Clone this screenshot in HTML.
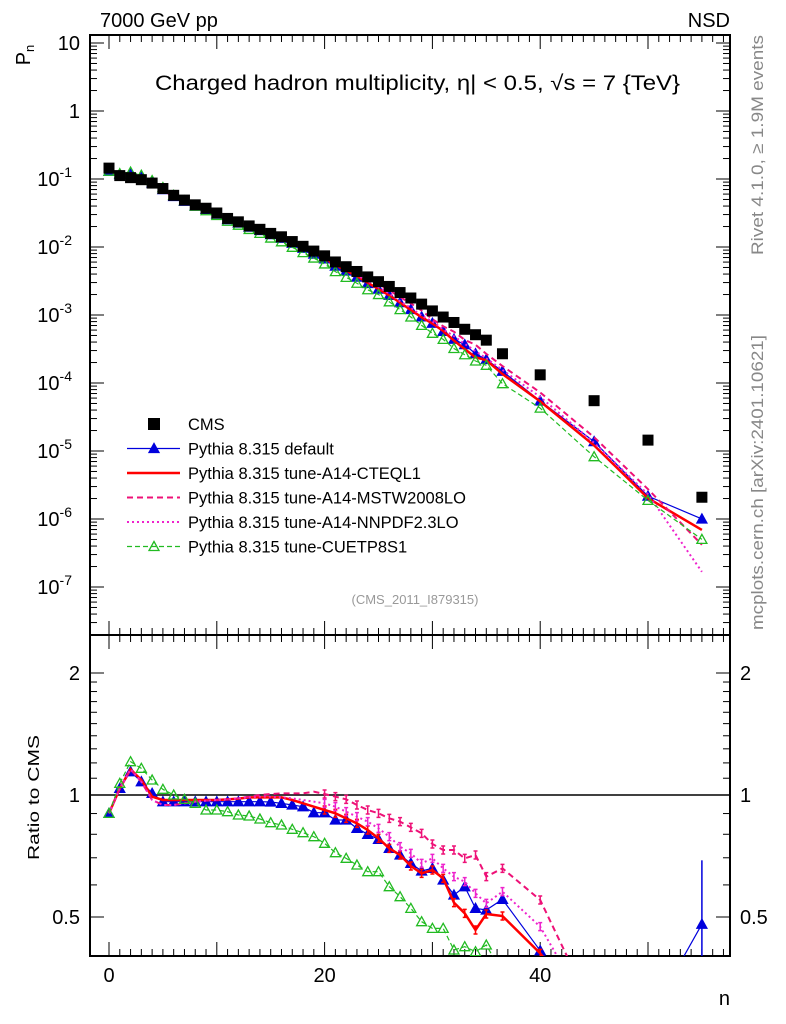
<!DOCTYPE html>
<html><head><meta charset="utf-8"><style>
html,body{margin:0;padding:0;background:#fff;width:786px;height:1024px;overflow:hidden;}
svg{display:block;font-family:"Liberation Sans",sans-serif;}
</style></head><body>
<svg id="chart" width="786" height="1024" xmlns="http://www.w3.org/2000/svg">
<defs><clipPath id="cm"><rect x="90" y="35" width="640" height="600"/></clipPath><clipPath id="cr"><rect x="90" y="635" width="640" height="321"/></clipPath></defs>
<g id="axes"></g>
<g id="marks-main" clip-path="url(#cm)"></g>
<g id="marks-ratio" clip-path="url(#cr)"></g>
<text x="100" y="27" font-size="20">7000 GeV pp</text>
<text x="730" y="27" font-size="20" text-anchor="end">NSD</text>
<text x="155" y="90" font-size="21" textLength="525" lengthAdjust="spacingAndGlyphs">Charged hadron multiplicity, η| &lt; 0.5, √s = 7 {TeV}</text>
<text x="30" y="55" font-size="20" text-anchor="middle" transform="rotate(-90 30 55)">P<tspan font-size="13" dy="4">n</tspan></text>
<text x="0" y="0" font-size="16" textLength="125" lengthAdjust="spacingAndGlyphs" transform="translate(39 860) rotate(-90)">Ratio to CMS</text>
<text x="730" y="1005" font-size="20" text-anchor="end">n</text>
<text x="415" y="604" font-size="13" fill="#999" text-anchor="middle">(CMS_2011_I879315)</text>
<text x="0" y="0" font-size="17" fill="#888" textLength="220" lengthAdjust="spacingAndGlyphs" transform="translate(763 255) rotate(-90)">Rivet 4.1.0, ≥ 1.9M events</text>
<text x="0" y="0" font-size="17" fill="#888" textLength="295" lengthAdjust="spacingAndGlyphs" transform="translate(763 630) rotate(-90)">mcplots.cern.ch [arXiv:2401.10621]</text>
<g id="legend"></g>
</svg>
<script>
const nVals=[0,1,2,3,4,5,6,7,8,9,10,11,12,13,14,15,16,17,18,19,20,21,22,23,24,25,26,27,28,29,30,31,32,33,34,35,36.5,40,45,50,55];
const cmsLog=[-0.84,-0.95,-0.98,-1.01,-1.06,-1.14,-1.24,-1.31,-1.38,-1.43,-1.50,-1.58,-1.63,-1.69,-1.74,-1.80,-1.85,-1.92,-1.99,-2.06,-2.13,-2.22,-2.29,-2.36,-2.44,-2.51,-2.58,-2.67,-2.75,-2.84,-2.94,-3.03,-3.11,-3.21,-3.29,-3.37,-3.57,-3.88,-4.26,-4.84,-5.68];
const zDefault=[220,145,95,125,160,185,185,185,185,185,185,185,185,185,185,186,190,195,200,218,218,240,240,265,283,298,325,345,370,393,385,420,465,440,505,510,478,632];
const zA14=[220,145,88,120,170,180,180,180,180,180,180,178,176,172,172,172,172,180,190,200,210,220,235,250,270,295,325,345,378,400,390,415,488,520,570,522,528,640];
const zMSTW=[220,145,88,125,180,195,195,190,185,182,180,178,175,170,165,162,160,160,160,155,162,170,178,195,210,220,235,245,262,280,312,330,330,355,345,410,385,480];
const zNNPDF=[220,145,88,125,180,195,195,190,185,182,180,178,175,172,170,170,172,175,180,185,190,200,215,230,245,265,290,320,340,370,355,385,410,425,460,490,455,560];
const zCUETP=[220,130,65,85,120,148,165,178,190,210,210,215,225,228,237,248,255,268,278,290,310,338,355,375,395,395,440,470,505,545,565,565,630,620,635,615,700,760];
const tailDefault=[0.25,0.15,0.48];
const tailA14=[0.22,0.14,0.33];
const tailMSTW=[0.29,0.19,0.2];
const tailNNPDF=[0.24,0.16,0.08];
const tailCUETP=[0.15,0.13,0.24];
const mainTicks=[1,0,-1,-2,-3,-4,-5,-6,-7];
const xTicks=[0,20,40];

const NS="http://www.w3.org/2000/svg";
const X=n=>109+n*10.78;
const YM=l=>111-68*l;
const YR=r=>Math.min(1020,795-405.3*Math.log10(r));
const zr=z=>Math.pow(2,(55-z/3)/122);
function mk(tag,at,parent){const e=document.createElementNS(NS,tag);for(const k in at)e.setAttribute(k,at[k]);parent.appendChild(e);return e;}
const axes=document.getElementById('axes'),gm=document.getElementById('marks-main'),gr=document.getElementById('marks-ratio');
let f1=mk('rect',{x:90,y:35,width:640,height:600,fill:'none',stroke:'#000','stroke-width':2},axes);

let f2=mk('rect',{x:90,y:635,width:640,height:321,fill:'none',stroke:'#000','stroke-width':2},axes);

for(let d=1;d>=-8;d--){for(let m=1;m<10;m++){const l=d+Math.log10(m);const y=YM(l);if(y<35||y>635)continue;const len=m==1?14:7;
mk('line',{x1:90,x2:90+len,y1:y,y2:y,stroke:'#000'},axes);mk('line',{x1:730,x2:730-len,y1:y,y2:y,stroke:'#000'},axes);}}
mainTicks.forEach(l=>{const y=YM(l);let t;
if(l==1)t=mk('text',{x:80,y:y+7,'font-size':20,'text-anchor':'end'},axes),t.textContent='10';
else if(l==0)t=mk('text',{x:80,y:y+7,'font-size':20,'text-anchor':'end'},axes),t.textContent='1';
else{t=mk('text',{x:72,y:y+7,'font-size':20,'text-anchor':'end'},axes);t.textContent='10';const s=mk('tspan',{dy:-9,'font-size':14},t);s.textContent=String(l);}
});
for(let n=0;n<=57;n++){const x=X(n);if(x<90||x>730)continue;const len=n%10==0?14:7;
[[635,-1],[35,1],[956,-1],[635,1]].forEach(([y0,s])=>mk('line',{x1:x,x2:x,y1:y0,y2:y0+s*len,stroke:'#000'},axes));}
xTicks.forEach(v=>{const t=mk('text',{x:X(v),y:982,'font-size':20,'text-anchor':'middle'},axes);t.textContent=v;
});
[0.4,0.5,0.6,0.7,0.8,0.9,1,1.1,1.2,1.3,1.4,1.5,1.6,1.7,1.8,1.9,2].forEach(r=>{const y=YR(r);const len=(r==0.5||r==1||r==2)?14:7;
mk('line',{x1:90,x2:90+len,y1:y,y2:y,stroke:'#000'},axes);mk('line',{x1:730,x2:730-len,y1:y,y2:y,stroke:'#000'},axes);});
[[2,'2'],[1,'1'],[0.5,'0.5']].forEach(([r,s])=>{[[80,'end'],[740,'start']].forEach(([x,a])=>{const t=mk('text',{x:x,y:YR(r)+7,'font-size':20,'text-anchor':a},axes);t.textContent=s;
});});
mk('line',{x1:90,x2:730,y1:YR(1),y2:YR(1),stroke:'#000','stroke-width':1.5},axes);

function tri(g,x,y,c,open,s){return mk('path',{d:`M${x},${y-s} L${x+s},${y+s*0.8} L${x-s},${y+s*0.8}Z`,fill:open?'none':c,stroke:c,'stroke-width':1.3},g);}
const models=[
 {name:'default',z:zDefault,tail:tailDefault,c:'#0000dd',w:1.2,dash:'',mark:'tri'},
 {name:'a14-cteql1',z:zA14,tail:tailA14,c:'#ff0000',w:2.5,dash:'',mark:''},
 {name:'a14-mstw',z:zMSTW,tail:tailMSTW,c:'#ee1177',w:2,dash:'6,4',mark:''},
 {name:'a14-nnpdf',z:zNNPDF,tail:tailNNPDF,c:'#ee22cc',w:2,dash:'2,3',mark:''},
 {name:'cuetp8s1',z:zCUETP,tail:tailCUETP,c:'#22bb22',w:1.2,dash:'5,3',mark:'otri'}];
models.forEach(m=>{
 const r=m.z.map(zr).concat(m.tail);
 let pm='',pr='';
 r.forEach((v,i)=>{const n=nVals[i];pm+=(i?'L':'M')+X(n)+','+YM(cmsLog[i]+Math.log10(v));pr+=(i?'L':'M')+X(n)+','+YR(v);});
 const a=mk('path',{d:pm,fill:'none',stroke:m.c,'stroke-width':m.w,'stroke-dasharray':m.dash},gm);
 
 const b=mk('path',{d:pr,fill:'none',stroke:m.c,'stroke-width':m.w,'stroke-dasharray':m.dash},gr);
 
 if(m.mark){r.forEach((v,i)=>{const n=nVals[i];
  const p1=tri(gm,X(n),YM(cmsLog[i]+Math.log10(v)),m.c,m.mark=='otri',5);
  
  const p2=tri(gr,X(n),YR(v),m.c,m.mark=='otri',5);
  });}
 else{r.forEach((v,i)=>{if(i<20)return;const n=nVals[i],y=YR(v);
  const e=mk('path',{d:`M${X(n)},${y-4}V${y+4}M${X(n)-2},${y-4}h4M${X(n)-2},${y+4}h4`,stroke:m.c,'stroke-width':1.5,fill:'none'},gr);
  });}
});
let eb=mk('line',{x1:X(55),x2:X(55),y1:YR(0.69),y2:956,stroke:'#0000dd','stroke-width':1.5},gr);

cmsLog.forEach((l,i)=>{const s=mk('rect',{x:X(nVals[i])-5.5,y:YM(l)-5.5,width:11,height:11,fill:'#000'},gm);
});
const lg=document.getElementById('legend');
const labels=['CMS','Pythia 8.315 default','Pythia 8.315 tune-A14-CTEQL1','Pythia 8.315 tune-A14-MSTW2008LO','Pythia 8.315 tune-A14-NNPDF2.3LO','Pythia 8.315 tune-CUETP8S1'];
labels.forEach((t,i)=>{const y=424+i*24.5;
 if(i==0){mk('rect',{x:148,y:y-6,width:12,height:12,fill:'#000'},lg);}
 else{const m=models[i-1];mk('line',{x1:127,x2:180,y1:y,y2:y,stroke:m.c,'stroke-width':m.w,'stroke-dasharray':m.dash},lg);
  if(m.mark)tri(lg,154,y,m.c,m.mark=='otri',5);}
 const tx=mk('text',{x:188,y:y+6,'font-size':16.5},lg);tx.textContent=t;
 });
</script>
</body></html>
